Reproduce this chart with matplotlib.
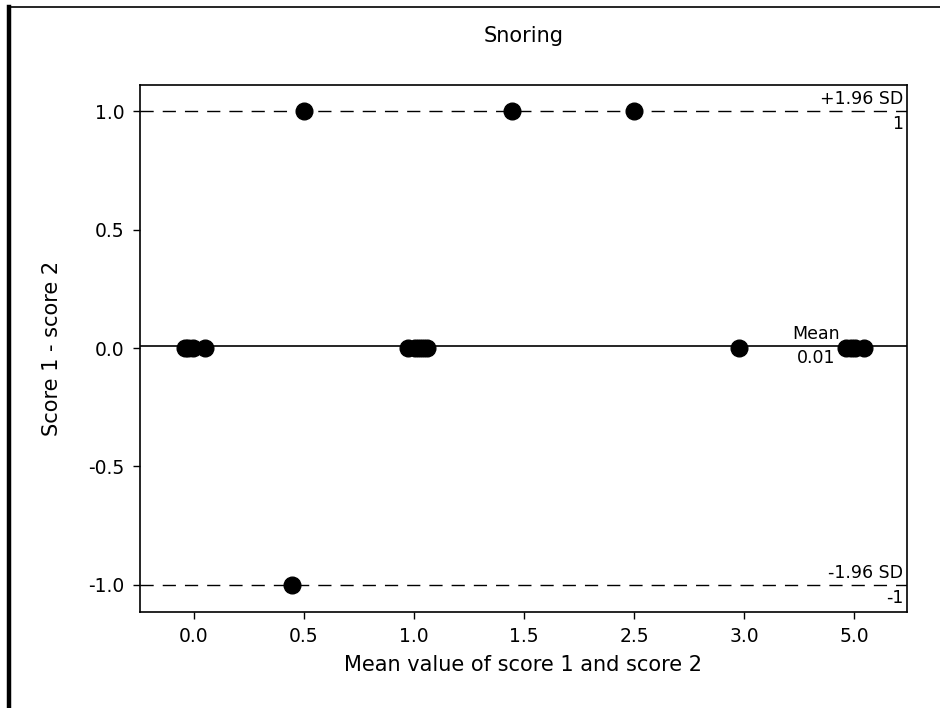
import matplotlib
matplotlib.use("Agg")
import matplotlib.pyplot as plt
from matplotlib.lines import Line2D

# categories on the x axis (mean of the two scores)
categories = ["0.0", "0.5", "1.0", "1.5", "2.5", "3.0", "5.0"]

# one entry per subject: category of the mean, difference, horizontal jitter
point_mean = ["0.0", "0.0", "0.0", "0.0",
              "0.5", "0.5",
              "1.0", "1.0", "1.0", "1.0", "1.0",
              "1.5", "2.5", "3.0",
              "5.0", "5.0", "5.0", "5.0"]
point_diff = [0, 0, 0, 0,
              1, -1,
              0, 0, 0, 0, 0,
              1, 1, 0,
              0, 0, 0, 0]
point_jitter = [-0.08, -0.05, -0.01, 0.10,
                0.00, -0.11,
                -0.05, 0.01, 0.05, 0.08, 0.12,
                -0.11, 0.00, -0.05,
                -0.07, -0.03, 0.01, 0.09]

mean_diff = 0.01
upper_loa = 1.0
lower_loa = -1.0
y_ticks = [-1.0, -0.5, 0.0, 0.5, 1.0]

fig = plt.figure(figsize=(9.4, 7.08), dpi=100)
ax = fig.add_axes([0.1489, 0.1356, 0.816, 0.7444])

xs = [categories.index(m) + j for m, j in zip(point_mean, point_jitter)]
ax.plot(xs, point_diff, "o", color="black", markersize=12, zorder=3)

dash = (0, (9.5, 6.5))
ax.axhline(upper_loa, color="black", lw=1.0, linestyle=dash, zorder=1)
ax.axhline(lower_loa, color="black", lw=1.0, linestyle=dash, zorder=1)
ax.axhline(mean_diff, color="black", lw=1.2, zorder=1)

tf = ax.get_yaxis_transform()
lab = dict(transform=tf, fontsize=12.5, color="black", ha="right")
ax.text(0.995, upper_loa + 0.012, "+1.96 SD", va="bottom", **lab)
ax.text(0.995, upper_loa - 0.015, f"{upper_loa:.0f}", va="top", **lab)
ax.text(0.995, lower_loa + 0.012, "-1.96 SD", va="bottom", **lab)
ax.text(0.995, lower_loa - 0.015, f"{lower_loa:.0f}", va="top", **lab)
ax.text(0.913, mean_diff + 0.012, "Mean", va="bottom", **lab)
ax.text(0.907, mean_diff - 0.015, f"{mean_diff:.2f}", va="top", **lab)

ax.set_xlim(-0.49, 6.48)
ax.set_ylim(-1.114, 1.11)
ax.set_xticks(range(len(categories)))
ax.set_xticklabels(categories)
ax.set_yticks(y_ticks)
ax.set_yticklabels([f"{v:.1f}" for v in y_ticks])
ax.tick_params(direction="out", length=5, width=1, labelsize=13.5, pad=6)
for s in ax.spines.values():
    s.set_linewidth(1.2)

ax.set_title("Snoring", fontsize=15, pad=31)
ax.set_xlabel("Mean value of score 1 and score 2", fontsize=15, labelpad=6)
ax.set_ylabel("Score 1 - score 2", fontsize=15, labelpad=19)

# outer frame: thick rule on the left, thin rule across the top
fig.add_artist(Line2D([0.0096, 0.0096], [0, 0.99], transform=fig.transFigure,
                      color="black", lw=3.2))
fig.add_artist(Line2D([0.008, 1.0], [0.9901, 0.9901], transform=fig.transFigure,
                      color="black", lw=1.2))

fig.savefig("out.png", dpi=100, facecolor="white")
